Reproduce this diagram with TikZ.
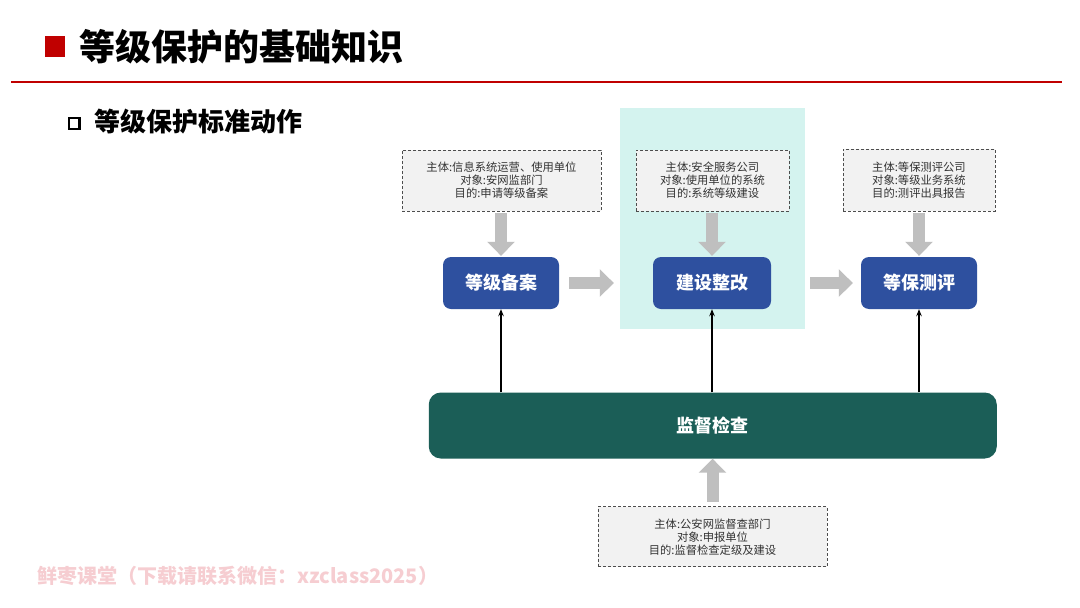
\documentclass[tikz,border=0pt]{standalone}
\usepackage{fontspec}
\newfontfamily\cjk{Noto Sans CJK SC}
\usetikzlibrary{arrows.meta}
\definecolor{titlered}{HTML}{C00000}
\definecolor{nodeblue}{HTML}{2E509F}
\definecolor{bargreen}{HTML}{1B5E57}
\definecolor{bgcyan}{HTML}{D4F3EF}
\definecolor{arrowgray}{HTML}{BFBFBF}
\definecolor{boxgray}{HTML}{F2F2F2}
\definecolor{dashgray}{HTML}{4D4D4D}
\definecolor{textgray}{HTML}{333333}
\definecolor{wmpink}{HTML}{F6CDD1}
\begin{document}
\begin{tikzpicture}[x=1pt,y=-1pt,
  infobox/.style={draw=dashgray, fill=boxgray, dash pattern=on 3pt off 2pt, line width=0.9pt,
    font=\cjk\fontsize{11.3}{13}\selectfont, text=textgray, align=center, inner sep=0pt},
  stage/.style={fill=nodeblue, rounded corners=8pt, text=white, font=\cjk\bfseries\fontsize{18}{20}\selectfont,
    minimum height=52pt, inner sep=0pt},
  bigarrow/.style={draw=arrowgray, line width=12pt, -{Triangle[width=27pt,length=14pt,fill=arrowgray]}},
  thinarrow/.style={draw=black, line width=1.3pt, -{Stealth[length=7pt,width=5.5pt]}}
]
\useasboundingbox (0,0) rectangle (1080,608);
\fill[white] (0,0) rectangle (1080,608);

% header
\fill[titlered] (45,36) rectangle (65,57);
\node[anchor=base west, inner sep=0pt, font=\cjk\bfseries\fontsize{36}{40}\selectfont] (title) at (79,60.5) {等级保护的基础知识};
\draw[titlered, line width=1.6pt] (11,82) -- (1062,82);
\draw[black, line width=2.4pt] (69,118) rectangle (79.5,129);
\node[anchor=base west, inner sep=0pt, font=\cjk\bfseries\fontsize{26}{30}\selectfont] (sub) at (94,131) {等级保护标准动作};

% cyan background
\fill[bgcyan] (620,108) rectangle (805,329);

% info boxes
\node[infobox, minimum width=199pt, minimum height=61pt] (i1) at (501.5,180.5) {主体:信息系统运营、使用单位\\对象:安网监部门\\目的:申请等级备案};
\node[infobox, minimum width=153pt, minimum height=61pt] (i2) at (712.5,180.5) {主体:安全服务公司\\对象:使用单位的系统\\目的:系统等级建设};
\node[infobox, minimum width=152pt, minimum height=62pt] (i3) at (919,180) {主体:等保测评公司\\对象:等级业务系统\\目的:测评出具报告};
\node[infobox, minimum width=229pt, minimum height=60pt] (i4) at (712.5,536.7) {主体:公安网监督查部门\\对象:申报单位\\目的:监督检查定级及建设};

% stage nodes
\node[stage, minimum width=116pt] (n1) at (501,283) {等级备案};
\node[stage, minimum width=118pt] (n2) at (712,283) {建设整改};
\node[stage, minimum width=116pt] (n3) at (919,283) {等保测评};

% supervision bar
\node[fill=bargreen, rounded corners=12pt, minimum width=568pt, minimum height=66pt, inner sep=0pt,
  text=white, font=\cjk\bfseries\fontsize{18}{20}\selectfont] (bar) at (712.75,425.5) {监督检查};

% gray arrows
\draw[bigarrow, shorten <=2pt, shorten >=1pt] (i1.south -| n1) -- (n1.north);
\draw[bigarrow, shorten <=2pt, shorten >=1pt] (i2.south -| n2) -- (n2.north);
\draw[bigarrow, shorten <=2pt, shorten >=1pt] (i3.south -| n3) -- (n3.north);
\draw[bigarrow, shorten <=10pt, shorten >=39pt] (n1.east) -- (n2.west);
\draw[bigarrow, shorten <=39pt, shorten >=8pt] (n2.east) -- (n3.west);
\draw[bigarrow, shorten <=4.5pt] (i4.north) -- (bar.south -| i4.north);

% thin arrows from bar
\draw[thinarrow] (bar.north -| n1.south) -- (n1.south);
\draw[thinarrow] (bar.north -| n2.south) -- (n2.south);
\draw[thinarrow] (bar.north -| n3.south) -- (n3.south);

% watermark
\node[anchor=base west, inner sep=0pt, text=wmpink, font=\cjk\bfseries\fontsize{20}{22}\selectfont] (wm) at (37,583) {鲜枣课堂（下载请联系微信：xzclass2025）};
\end{tikzpicture}
\end{document}
